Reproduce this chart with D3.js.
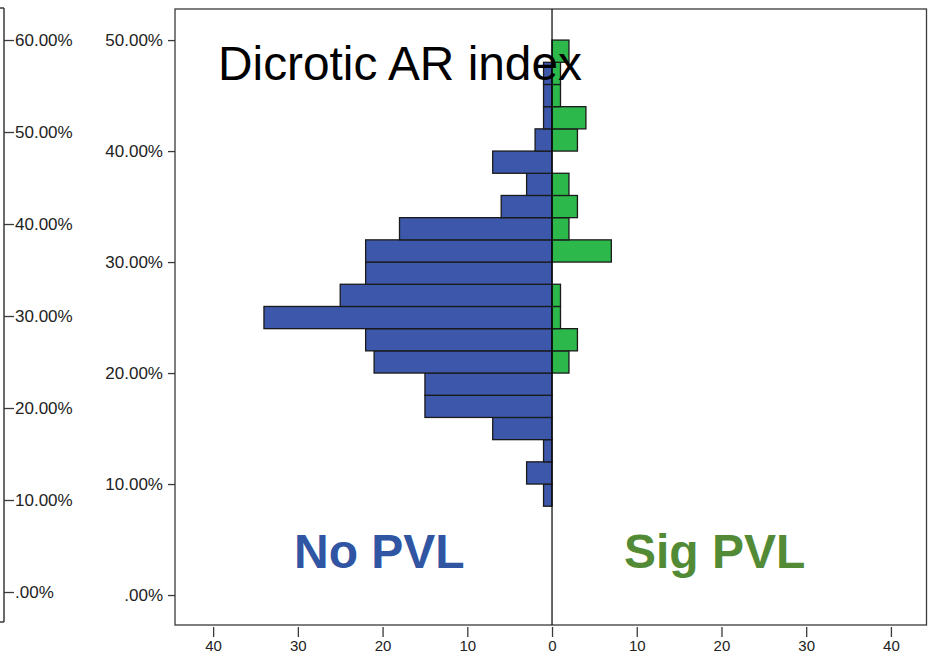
<!DOCTYPE html>
<html>
<head>
<meta charset="utf-8">
<script src="https://cdn.jsdelivr.net/npm/d3@7"></script>
<style>
  html, body { margin: 0; padding: 0; background: #fff; }
  svg { display: block; font-family: "Liberation Sans", Arial, sans-serif; }
</style>
</head>
<body>
<svg id="chart" width="928" height="655"></svg>
<script>
// ---- data ----
const binLower = [0.08, 0.10, 0.12, 0.14, 0.16, 0.18, 0.20, 0.22, 0.24, 0.26, 0.28,
                  0.30, 0.32, 0.34, 0.36, 0.38, 0.40, 0.42, 0.44, 0.46, 0.48];
const binUpper = [0.10, 0.12, 0.14, 0.16, 0.18, 0.20, 0.22, 0.24, 0.26, 0.28, 0.30,
                  0.32, 0.34, 0.36, 0.38, 0.40, 0.42, 0.44, 0.46, 0.48, 0.50];
const noPVL  = [1, 3, 1, 7, 15, 15, 21, 22, 34, 25, 22, 22, 18, 6, 3, 7, 2, 1, 1, 1, 0];
const sigPVL = [0, 0, 0, 0, 0, 0, 2, 3, 1, 1, 0, 7, 2, 3, 2, 0, 3, 4, 1, 1, 2];

const innerTicks = [0, 0.1, 0.2, 0.3, 0.4, 0.5];
const innerTickLabels = [".00%", "10.00%", "20.00%", "30.00%", "40.00%", "50.00%"];
const outerTicks = [0, 0.1, 0.2, 0.3, 0.4, 0.5, 0.6];
const outerTickLabels = [".00%", "10.00%", "20.00%", "30.00%", "40.00%", "50.00%", "60.00%"];
const countTicks = [-40, -30, -20, -10, 0, 10, 20, 30, 40];
const countTickLabels = ["40", "30", "20", "10", "0", "10", "20", "30", "40"];

const titleText = "Dicrotic AR index";
const leftGroupLabel = "No PVL";
const rightGroupLabel = "Sig PVL";

// ---- layout ----
const svg = d3.select("#chart");
const frame = { left: 175, right: 926.5, top: 9, bottom: 625 };

const x = d3.scaleLinear().domain([-44.5, 44.2]).range([frame.left, frame.right]);
const y = d3.scaleLinear().domain([-0.027, 0.528]).range([frame.bottom, frame.top]);
const yOuter = d3.scaleLinear().domain([-0.0326, 0.6348]).range([622, 8]);

const labelColor = "#222";
const axisColor = "#3a3a3a";
const fontFam = "Liberation Sans, Arial, sans-serif";

// outer (cropped) left axis
const outerG = svg.append("g").attr("transform", "translate(4,0)");
outerG.append("line").attr("x1", 0).attr("x2", 0).attr("y1", 8).attr("y2", 622)
  .attr("stroke", axisColor).attr("stroke-width", 1.5);
outerG.append("line").attr("x1", -4).attr("x2", 0).attr("y1", 8).attr("y2", 8)
  .attr("stroke", axisColor).attr("stroke-width", 1.5);
outerG.append("line").attr("x1", -4).attr("x2", 0).attr("y1", 622).attr("y2", 622)
  .attr("stroke", axisColor).attr("stroke-width", 1.5);
const outerAxis = d3.axisRight(yOuter).tickValues(outerTicks)
  .tickFormat((d, i) => outerTickLabels[i]).tickSize(10).tickPadding(1);
const og = outerG.append("g").call(outerAxis);
og.select(".domain").remove();
og.selectAll(".tick line").attr("stroke", axisColor).attr("stroke-width", 1.3);
og.selectAll(".tick text").attr("fill", labelColor).attr("font-size", 17)
  .attr("font-family", fontFam);

// bars
const bandTop = i => y(binUpper[i]);
const bandH = i => y(binLower[i]) - y(binUpper[i]);
const barsG = svg.append("g");
barsG.selectAll("rect.no")
  .data(noPVL.map((v, i) => ({ v, i })).filter(d => d.v > 0))
  .join("rect").attr("class", "no")
  .attr("x", d => x(-d.v)).attr("width", d => x(0) - x(-d.v))
  .attr("y", d => bandTop(d.i)).attr("height", d => bandH(d.i))
  .attr("fill", "#3D58AA").attr("stroke", "#1a1a1a").attr("stroke-width", 1.3);
barsG.selectAll("rect.sig")
  .data(sigPVL.map((v, i) => ({ v, i })).filter(d => d.v > 0))
  .join("rect").attr("class", "sig")
  .attr("x", x(0)).attr("width", d => x(d.v) - x(0))
  .attr("y", d => bandTop(d.i)).attr("height", d => bandH(d.i))
  .attr("fill", "#2DB84B").attr("stroke", "#1a1a1a").attr("stroke-width", 1.3);

// frame
svg.append("rect").attr("x", frame.left).attr("y", frame.top)
  .attr("width", frame.right - frame.left).attr("height", frame.bottom - frame.top)
  .attr("fill", "none").attr("stroke", axisColor).attr("stroke-width", 1.3);

// zero line
svg.append("line").attr("x1", x(0)).attr("x2", x(0)).attr("y1", frame.top).attr("y2", frame.bottom)
  .attr("stroke", "#000").attr("stroke-width", 1.2);

// inner y axis
const innerAxis = d3.axisLeft(y).tickValues(innerTicks)
  .tickFormat((d, i) => innerTickLabels[i]).tickSize(7).tickPadding(5);
const ig = svg.append("g").attr("transform", `translate(${frame.left},0)`).call(innerAxis);
ig.select(".domain").remove();
ig.selectAll(".tick line").attr("stroke", axisColor).attr("stroke-width", 1.3);
ig.selectAll(".tick text").attr("fill", labelColor).attr("font-size", 17)
  .attr("font-family", fontFam);

// bottom count axis
const xAxis = d3.axisBottom(x).tickValues(countTicks)
  .tickFormat((d, i) => countTickLabels[i]).tickSizeInner(12).tickSizeOuter(0).tickPadding(4);
const xg = svg.append("g").attr("transform", `translate(0,${frame.bottom})`).call(xAxis);
xg.select(".domain").remove();
xg.selectAll(".tick line").attr("stroke", axisColor).attr("stroke-width", 1.3)
  .attr("y1", 2);
xg.selectAll(".tick text").attr("fill", labelColor).attr("font-size", 15)
  .attr("font-family", fontFam).attr("dy", null).attr("y", 26);

// texts on top
svg.append("text").attr("x", 218).attr("y", 80).text(titleText)
  .attr("font-size", 47.8).attr("fill", "#000");
svg.append("text").attr("x", 294).attr("y", 568).text(leftGroupLabel)
  .attr("font-size", 48).attr("font-weight", "bold").attr("fill", "#2F55A3");
svg.append("text").attr("x", 624).attr("y", 568).text(rightGroupLabel)
  .attr("font-size", 48).attr("font-weight", "bold").attr("fill", "#528A36");
</script>
</body>
</html>
